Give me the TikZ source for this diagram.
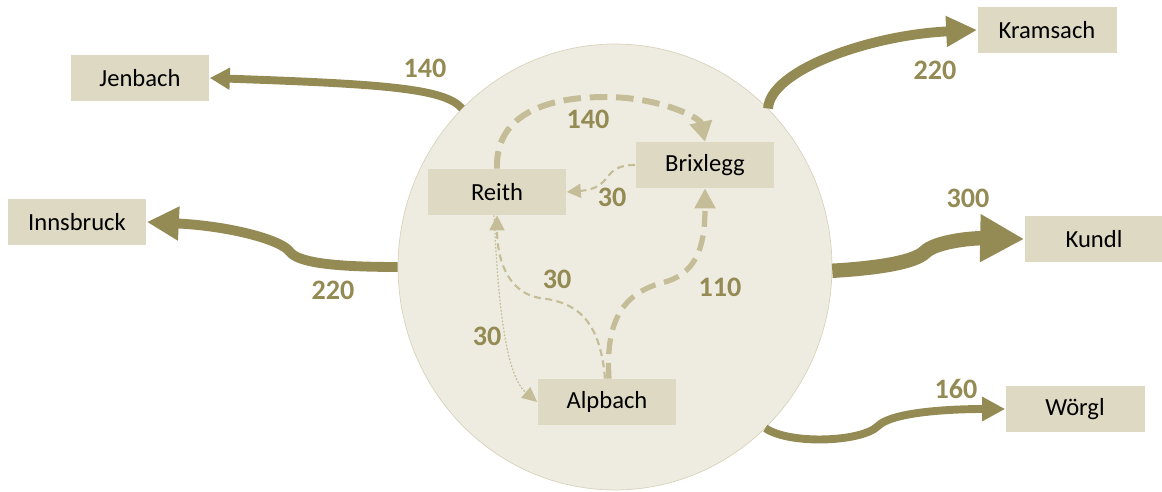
\documentclass[tikz,border=0pt]{standalone}
\usepackage{fontspec}
\setmainfont{Carlito}
\usepackage{tikz}
\usetikzlibrary{arrows,arrows.meta,positioning,shapes}

\definecolor{zonefill}{HTML}{EEECE1}
\definecolor{zoneline}{HTML}{D8D3BC}
\definecolor{placefill}{HTML}{DDD9C3}
\definecolor{flowdark}{HTML}{948A54}
\definecolor{flowlight}{HTML}{C4BD97}

\begin{document}
\begin{tikzpicture}[x=0.02cm,y=-0.02cm]
	\tikzset{place/.style={fill=placefill,minimum width=2.78cm,minimum height=0.92cm,inner sep=0pt,font=\fontsize{14}{16}\selectfont}}
	\tikzstyle{amount}=[text=flowdark,font=\bfseries\fontsize{16}{18}\selectfont,inner sep=0pt]
	\tikzstyle{outflow}=[draw=flowdark,line cap=butt]
	\tikzstyle{innerflow}=[draw=flowlight]
	\useasboundingbox (0,0) rectangle (1162,492);

	%% Region
	\node[ellipse,fill=zonefill,draw=zoneline,line width=0.4pt,minimum width=8.68cm,minimum height=8.92cm] (zone) at (615,267) {};

	%% Places inside
	\node[place] (reith) at (497,192) {Reith};
	\node[place] (brixlegg) at (705,165) {Brixlegg};
	\node[place] (alpbach) at (607,402) {Alpbach};

	%% Places outside
	\node[place] (jenbach) at (140,78) {Jenbach};
	\node[place] (innsbruck) at (77,222) {Innsbruck};
	\node[place] (kramsach) at (1047,30) {Kramsach};
	\node[place] (kundl) at (1094,239) {Kundl};
	\node[place] (woergl) at (1075,409) {Wörgl};

	%% Flows leaving the region
	\draw[outflow,line width=4.5pt,-{Triangle[width=0.42cm,length=0.4cm]}]
		(zone.134) .. controls (445,88) and (380,84) .. (jenbach.east);
	\draw[outflow,line width=5.6pt,-{Triangle[width=0.64cm,length=0.64cm]}]
		(zone.180) .. controls (330,267) and (298,262) .. (290,252)
		.. controls (282,240) and (230,226) .. (innsbruck.east);
	\draw[outflow,line width=5.6pt,-{Triangle[width=0.58cm,length=0.62cm]}]
		(zone.46) .. controls (770,70) and (870,35) .. (kramsach.west);
	\draw[outflow,line width=8.2pt,-{Triangle[width=0.9cm,length=0.88cm]}]
		(zone.-1) .. controls (880,268) and (915,262) .. (925,252)
		.. controls (935,242) and (970,238) .. (kundl.west);
	\draw[outflow,line width=4.5pt,-{Triangle[width=0.46cm,length=0.46cm]}]
		(zone.-47) .. controls (790,445) and (862,442) .. (878,426)
		.. controls (892,412) and (950,409) .. (woergl.west);

	\node[amount] (l140out) at (425,68) {140};
	\node[amount] (l220inn) at (333,290) {220};
	\node[amount] (l220kra) at (935,70) {220};
	\node[amount] (l300) at (968,198) {300};
	\node[amount] (l160) at (956,389) {160};

	%% Flows inside the region
	\draw[innerflow,line width=3.4pt,dash pattern=on 10pt off 5pt,-{Triangle[width=0.44cm,length=0.4cm]}]
		(reith.north) .. controls (495,110) and (555,97) .. (605,97)
		.. controls (660,97) and (700,118) .. (brixlegg.north);
	\draw[innerflow,line width=1.2pt,dash pattern=on 4pt off 2.5pt,-{Triangle[width=0.28cm,length=0.28cm]}]
		(brixlegg.west) .. controls (600,165) and (615,188) .. (reith.east);
	\draw[innerflow,line width=1.2pt,dash pattern=on 4pt off 2.5pt,-{Triangle[width=0.3cm,length=0.3cm]}]
		([xshift=-0.04cm]alpbach.north) .. controls (600,318) and (575,302) .. (540,298)
		.. controls (505,292) and (497,255) .. (reith.south);
	\draw[innerflow,line width=3pt,dash pattern=on 9pt off 5pt,-{Triangle[width=0.4cm,length=0.4cm]}]
		([xshift=0.04cm]alpbach.north) .. controls (605,318) and (625,292) .. (665,282)
		.. controls (700,272) and (705,240) .. (brixlegg.south);
	\draw[innerflow,line width=0.7pt,dash pattern=on 1pt off 1pt,-{Triangle[width=0.28cm,length=0.3cm]}]
		([xshift=-0.06cm]reith.south) .. controls (498,300) and (505,375) .. (alpbach.west);

	\node[amount] (l140in) at (588,119) {140};
	\node[amount] (l30br) at (612,197) {30};
	\node[amount] (l30ar) at (557,279) {30};
	\node[amount] (l110) at (720,287) {110};
	\node[amount] (l30ra) at (487,336) {30};
\end{tikzpicture}
\end{document}
